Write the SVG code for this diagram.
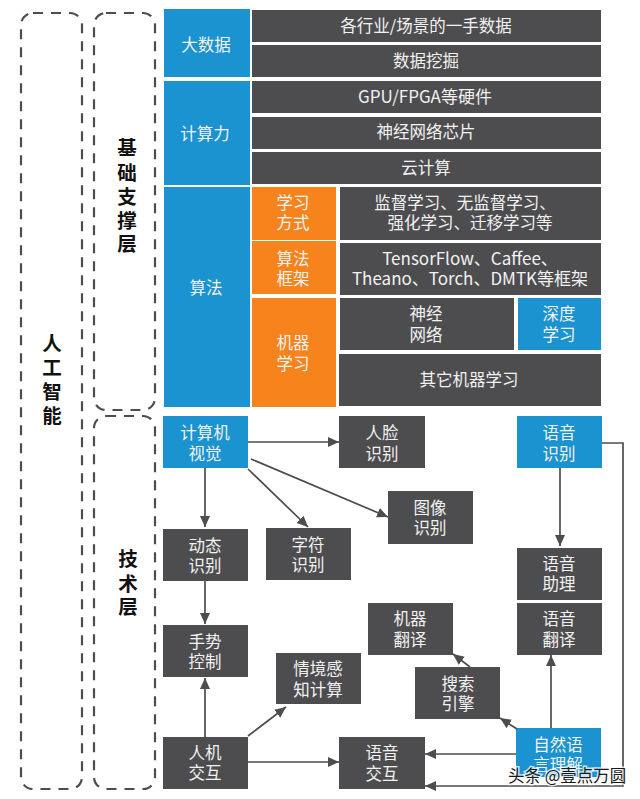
<svg xmlns="http://www.w3.org/2000/svg" width="640" height="799" viewBox="0 0 640 799">
<style>
text{font-family:"Noto Sans CJK SC","Noto Sans",sans-serif;font-size:16.5px;fill:#f2f2f2;text-anchor:middle}
.b{fill:#1b93d0}.d{fill:#4d4d4f}.o{fill:#f6831c}
.h{font-weight:700;font-size:19.5px;fill:#111}
.l{font-size:17px}
.f{fill:none;stroke:#4d4d4f;stroke-width:2.2;stroke-dasharray:10 8}
.c{fill:none;stroke:#4d4d4f;stroke-width:1.7}
.a{marker-end:url(#m)}
.w{font-size:16.5px;fill:#1a1a1a;text-anchor:start;stroke:#fff;stroke-width:3;stroke-opacity:.75;paint-order:stroke}
</style>
<defs><marker id="m" markerUnits="userSpaceOnUse" markerWidth="13" markerHeight="11" refX="11" refY="5" orient="auto"><path d="M0 0L11 5L0 10z" fill="#4d4d4f"/></marker></defs>
<rect width="640" height="799" fill="#fff"/>
<g id="layer-ai"><rect class="f" x="21" y="13" width="61" height="776" rx="12"/><text class="h" x="52" y="351">人<tspan x="52" dy="24">工</tspan><tspan x="52" dy="24">智</tspan><tspan x="52" dy="24">能</tspan></text></g>
<g id="layer-base"><rect class="f" x="94" y="13" width="61" height="397" rx="12"/><text class="h" x="127" y="155">基<tspan x="127" dy="25">础</tspan><tspan x="127" dy="24">支</tspan><tspan x="127" dy="24">撑</tspan><tspan x="127" dy="23">层</tspan></text></g>
<g id="layer-tech"><rect class="f" x="94" y="416" width="61" height="373" rx="12"/><text class="h" x="128" y="566">技<tspan x="128" dy="25">术</tspan><tspan x="128" dy="23">层</tspan></text></g>
<g id="bigdata"><rect class="b" x="164" y="9" width="86" height="68"/><text x="206" y="51">大数据</text></g>
<g id="compute"><rect class="b" x="164" y="81" width="86" height="104"/><text x="205" y="140">计算力</text></g>
<g id="algo"><rect class="b" x="164" y="187" width="86" height="220"/><text x="206" y="294">算法</text></g>
<g id="r1"><rect class="d" x="252" y="10" width="349" height="32"/><text x="426" y="32">各行业/场景的一手数据</text></g>
<g id="r2"><rect class="d" x="252" y="45" width="349" height="32"/><text x="426" y="67">数据挖掘</text></g>
<g id="r3"><rect class="d" x="252" y="81" width="349" height="32"/><text class="l" x="425" y="103">GPU/FPGA等硬件</text></g>
<g id="r4"><rect class="d" x="252" y="117" width="349" height="32"/><text x="426" y="138">神经网络芯片</text></g>
<g id="r5"><rect class="d" x="252" y="152" width="349" height="32"/><text x="426" y="174">云计算</text></g>
<g id="o1"><rect class="o" x="252" y="187" width="84" height="53"/><text x="293" y="209">学习<tspan x="293" dy="20">方式</tspan></text></g>
<g id="o2"><rect class="o" x="252" y="241" width="84" height="53"/><text x="293" y="265">算法<tspan x="293" dy="20">框架</tspan></text></g>
<g id="o3"><rect class="o" x="252" y="298" width="84" height="109"/><text x="293" y="349">机器<tspan x="293" dy="21">学习</tspan></text></g>
<g id="m1"><rect class="d" x="340" y="187" width="261" height="53"/><text x="465" y="209">监督学习、无监督学习、<tspan x="470" dy="20">强化学习、迁移学习等</tspan></text></g>
<g id="m2"><rect class="d" x="340" y="243" width="261" height="52"/><text class="l" x="470" y="265">TensorFlow、Caffee、<tspan x="470" dy="20">Theano、Torch、DMTK等框架</tspan></text></g>
<g id="m3"><rect class="d" x="340" y="298" width="174" height="52"/><text x="426" y="320">神经<tspan x="426" dy="21">网络</tspan></text></g>
<g id="m4"><rect class="b" x="518" y="298" width="83" height="52"/><text x="559" y="320">深度<tspan x="559" dy="21">学习</tspan></text></g>
<g id="m5"><rect class="d" x="339" y="354" width="262" height="52"/><text x="469" y="386">其它机器学习</text></g>
<g id="cv"><rect class="b" x="163" y="416" width="85" height="52"/><text x="205" y="439">计算机<tspan x="205" dy="21">视觉</tspan></text></g>
<g id="dyn"><rect class="d" x="163" y="529" width="85" height="52"/><text x="205" y="552">动态<tspan x="205" dy="20">识别</tspan></text></g>
<g id="gesture"><rect class="d" x="163" y="625" width="85" height="52"/><text x="205" y="648">手势<tspan x="205" dy="20">控制</tspan></text></g>
<g id="hci"><rect class="d" x="163" y="737" width="85" height="52"/><text x="205" y="759">人机<tspan x="205" dy="20">交互</tspan></text></g>
<g id="char"><rect class="d" x="266" y="528" width="85" height="52"/><text x="308" y="551">字符<tspan x="308" dy="20">识别</tspan></text></g>
<g id="ctx"><rect class="d" x="276" y="653" width="85" height="51"/><text x="318" y="675">情境感<tspan x="318" dy="21">知计算</tspan></text></g>
<g id="face"><rect class="d" x="339" y="416" width="86" height="52"/><text x="382" y="439">人脸<tspan x="382" dy="21">识别</tspan></text></g>
<g id="img"><rect class="d" x="388" y="491" width="85" height="53"/><text x="430" y="514">图像<tspan x="430" dy="20">识别</tspan></text></g>
<g id="asr"><rect class="b" x="517" y="416" width="85" height="52"/><text x="559" y="439">语音<tspan x="559" dy="21">识别</tspan></text></g>
<g id="assist"><rect class="d" x="517" y="548" width="85" height="52"/><text x="559" y="570">语音<tspan x="559" dy="20">助理</tspan></text></g>
<g id="vtrans"><rect class="d" x="517" y="603" width="85" height="52"/><text x="559" y="625">语音<tspan x="559" dy="21">翻译</tspan></text></g>
<g id="mt"><rect class="d" x="368" y="603" width="85" height="52"/><text x="410" y="625">机器<tspan x="410" dy="21">翻译</tspan></text></g>
<g id="search"><rect class="d" x="415" y="667" width="85" height="52"/><text x="458" y="690">搜索<tspan x="458" dy="20">引擎</tspan></text></g>
<g id="voice"><rect class="d" x="339" y="737" width="86" height="52"/><text x="382" y="759">语音<tspan x="382" dy="21">交互</tspan></text></g>
<g id="nlp"><rect class="b" x="516" y="728" width="85" height="49"/><text x="558" y="751">自然语<tspan x="558" dy="20">言理解</tspan></text></g>
<g id="connectors">
<path class="c a" d="M248 442H339"/>
<path class="c a" d="M251 459L388 517"/>
<path class="c a" d="M248 469L308 527"/>
<path class="c a" d="M205 468V527"/>
<path class="c a" d="M205 581V624"/>
<path class="c a" d="M205 737V678"/>
<path class="c a" d="M248 736L286 707"/>
<path class="c a" d="M248 762H339"/>
<path class="c a" d="M516 754H425"/>
<path class="c a" d="M517 729L500 718"/>
<path class="c a" d="M470 667L453 654"/>
<path class="c a" d="M551 728V655"/>
<path class="c a" d="M560 468V546"/>
<path class="c a" d="M602 443H623V786H425"/>
</g>
<text class="w" x="508" y="782">头条 @壹点万圆</text>
</svg>
